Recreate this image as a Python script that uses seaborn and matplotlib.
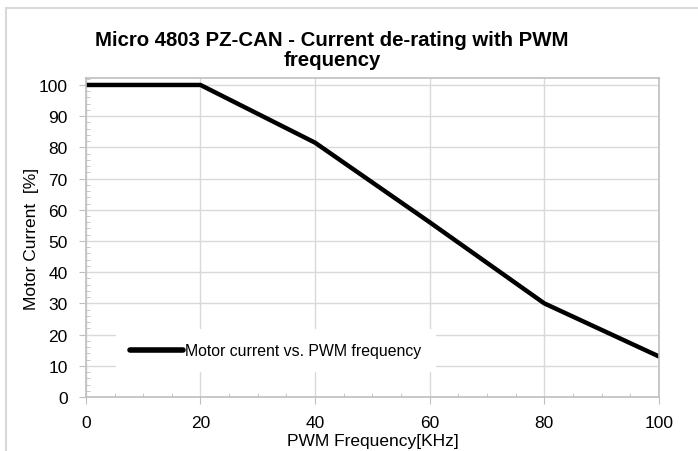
import matplotlib
matplotlib.use("Agg")
import matplotlib.pyplot as plt
from matplotlib.patches import Rectangle
from matplotlib.ticker import MultipleLocator
import seaborn as sns
import pandas as pd

# Datos
pwm_freq_khz = [0, 20, 40, 60, 80, 100]
motor_current_pct = [100, 100, 81.5, 56, 30, 13]
series_label = "Motor current vs. PWM frequency"

df = pd.DataFrame({"freq": pwm_freq_khz, "current": motor_current_pct})

sns.set_style("white")
plt.rcParams["font.family"] = ["Liberation Sans", "DejaVu Sans"]
plt.rcParams["text.color"] = "black"
plt.rcParams["axes.labelcolor"] = "black"
plt.rcParams["xtick.color"] = "black"
plt.rcParams["ytick.color"] = "black"

fig = plt.figure(figsize=(6.98, 4.52), dpi=100)
ax = fig.add_axes([0.123, 0.1195, 0.821, 0.7055])

# Borde exterior del area del grafico
fig.patches.append(Rectangle((6 / 698, -0.05), 1.1, 1.05 - 9 / 452,
                             transform=fig.transFigure, fill=False,
                             edgecolor="#d9d9d9", linewidth=1.5))

sns.lineplot(data=df, x="freq", y="current", ax=ax, color="black",
             linewidth=3.2, label=series_label, solid_capstyle="round")

ax.set_xlim(0, 100)
ax.set_ylim(0, 102.2)
ax.xaxis.set_major_locator(MultipleLocator(20))
ax.xaxis.set_minor_locator(MultipleLocator(5))
ax.yaxis.set_major_locator(MultipleLocator(10))
ax.yaxis.set_minor_locator(MultipleLocator(2))

ax.grid(True, which="major", color="#d9d9d9", linewidth=1)
ax.set_axisbelow(True)
for s in ax.spines.values():
    s.set_color("#bfbfbf")
    s.set_linewidth(1.2)

ax.tick_params(axis="both", which="major", direction="out", length=5,
               color="#bfbfbf", labelsize=12.5,
               bottom=True, left=True)
ax.tick_params(axis="x", which="major", pad=8)
ax.tick_params(axis="y", which="major", pad=8)
ax.tick_params(axis="both", which="minor", direction="in", length=3,
               color="#bfbfbf", bottom=True, left=True)

ax.set_xlabel("PWM Frequency[KHz]", fontsize=12.5, labelpad=2)
ax.set_ylabel("Motor Current  [%]", fontsize=12.5, labelpad=0)
fig.text(332 / 698, 1 - 40 / 452, "Micro 4803 PZ-CAN - Current de-rating with PWM",
         ha="center", va="center", fontsize=14.7, fontweight="bold")
fig.text(332 / 698, 1 - 61 / 452, "frequency",
         ha="center", va="center", fontsize=14.7, fontweight="bold")

leg = ax.legend(loc="center left", bbox_to_anchor=(0.053, 0.145), fontsize=11.4,
                frameon=True, facecolor="white", edgecolor="none",
                framealpha=1, fancybox=False, handlelength=3.3,
                handletextpad=0.15, borderpad=0.9, borderaxespad=0)
for line in leg.get_lines():
    line.set_linewidth(4)

fig.savefig("out.png", dpi=100)
